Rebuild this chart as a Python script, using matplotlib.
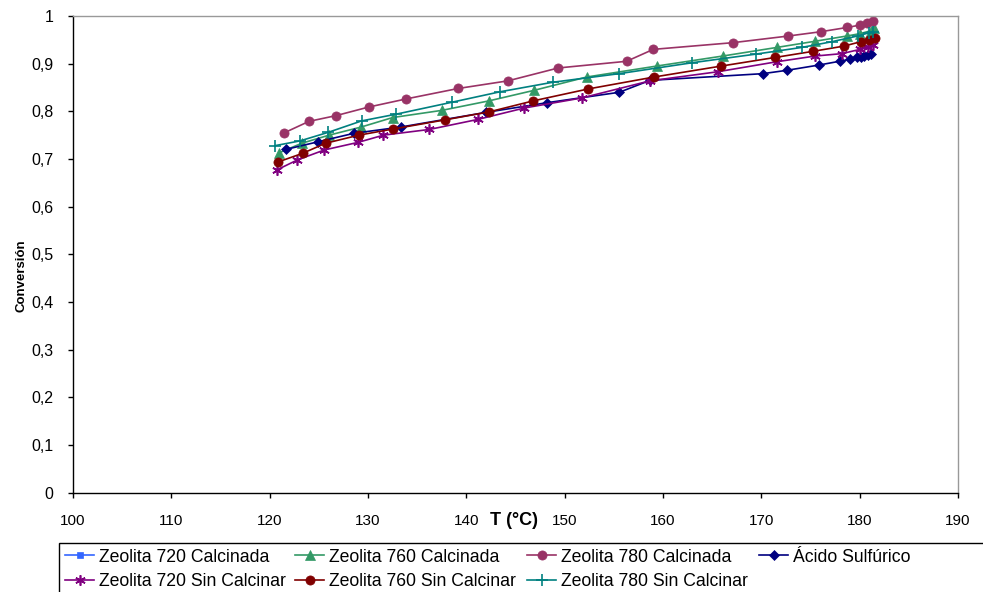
import matplotlib
matplotlib.use("Agg")
import matplotlib.pyplot as plt
from matplotlib.patches import Rectangle
from matplotlib.ticker import FuncFormatter, MultipleLocator

plt.rcParams['font.family'] = ['Liberation Sans', 'DejaVu Sans']

# Temperatures (°C) and conversions for each catalyst
t_720_calc = []
x_720_calc = []

t_760_calc = [120.95, 123.26, 126.03, 129.29, 132.51, 137.5, 142.31, 146.88,
              152.24, 159.36, 166.07, 171.56, 175.46, 178.68, 180.04, 181.12,
              181.49]
x_760_calc = [0.713, 0.733, 0.750, 0.767, 0.787, 0.802, 0.822, 0.844,
              0.872, 0.895, 0.916, 0.934, 0.947, 0.958, 0.963, 0.969, 0.974]

t_780_calc = [121.49, 124.0, 126.75, 130.07, 133.87, 139.18, 144.24, 149.35,
              156.3, 159.01, 167.09, 172.74, 176.04, 178.74, 180.04, 180.78,
              181.33]
x_780_calc = [0.755, 0.779, 0.791, 0.809, 0.826, 0.848, 0.864, 0.891,
              0.905, 0.930, 0.944, 0.958, 0.967, 0.976, 0.981, 0.986, 0.990]

t_acido = [121.63, 124.89, 128.58, 133.31, 142.05, 148.17, 155.56, 158.68,
           170.14, 172.58, 175.82, 177.95, 178.97, 179.7, 180.14, 180.47,
           180.88, 181.15]
x_acido = [0.720, 0.736, 0.754, 0.767, 0.798, 0.818, 0.840, 0.865,
           0.879, 0.886, 0.897, 0.905, 0.909, 0.913, 0.914, 0.916, 0.919,
           0.921]

t_720_sin = [120.72, 122.81, 125.56, 129.01, 131.56, 136.24, 141.16, 145.9,
             151.73, 158.68, 165.56, 171.56, 175.46, 178.17, 180.04, 180.88,
             181.39]
x_720_sin = [0.677, 0.698, 0.719, 0.735, 0.750, 0.762, 0.783, 0.807,
             0.828, 0.864, 0.883, 0.904, 0.916, 0.921, 0.930, 0.935, 0.939]

t_760_sin = [120.88, 123.36, 125.68, 129.06, 132.57, 137.8, 142.34, 146.81,
             152.4, 159.09, 165.93, 171.39, 175.29, 178.44, 180.09, 180.98,
             181.56]
x_760_sin = [0.694, 0.712, 0.733, 0.750, 0.763, 0.782, 0.799, 0.822,
             0.847, 0.872, 0.895, 0.913, 0.926, 0.937, 0.946, 0.949, 0.953]

t_780_sin = [120.54, 123.09, 125.96, 129.36, 132.85, 138.51, 143.42, 148.78,
             155.53, 162.98, 169.43, 174.09, 177.16, 179.78, 180.98, 181.33]
x_780_sin = [0.728, 0.738, 0.756, 0.780, 0.794, 0.819, 0.841, 0.861,
             0.879, 0.902, 0.920, 0.934, 0.946, 0.958, 0.965, 0.967]

series = [
    ("Zeolita 720 Calcinada", t_720_calc, x_720_calc, '#3366FF', 's', 5),
    ("Zeolita 760 Calcinada", t_760_calc, x_760_calc, '#339966', '^', 6.8),
    ("Zeolita 780 Calcinada", t_780_calc, x_780_calc, '#993366', 'o', 6.6),
    ("Ácido Sulfúrico", t_acido, x_acido, '#000080', 'D', 5),
    ("Zeolita 720 Sin Calcinar", t_720_sin, x_720_sin, '#800080', (6, 2, 0), 7.5),
    ("Zeolita 760 Sin Calcinar", t_760_sin, x_760_sin, '#800000', 'o', 6.6),
    ("Zeolita 780 Sin Calcinar", t_780_sin, x_780_sin, '#008080', '+', 8.5),
]

# legend entry anchors (pixels from top-left), Excel-style flowing rows
legend_pos = [(65, 557), (295, 557), (527, 557), (759, 557),
              (65, 582), (295, 582), (527, 582)]

W, H = 983, 592
fig = plt.figure(figsize=(W / 100, H / 100), dpi=100)
ax = fig.add_axes([73 / W, (H - 492.7) / H, 885 / W, 476.7 / H])

lines = []
for label, t, x, color, marker, ms in series:
    ln, = ax.plot(t, x, color=color, marker=marker, markersize=ms,
                  linewidth=1.2,
                  markeredgewidth=1.2 if marker in ('+', (6, 2, 0)) else 0.5,
                  markeredgecolor=color, label=label)
    lines.append(ln)

ax.set_xlim(100, 190)
ax.set_ylim(0, 1)
ax.xaxis.set_major_locator(MultipleLocator(10))
ax.yaxis.set_major_locator(MultipleLocator(0.1))
ax.yaxis.set_major_formatter(FuncFormatter(
    lambda v, p: ('%g' % round(v, 1)).replace('.', ',')))
ax.tick_params(direction='out', length=3.5, width=1, colors='black')
ax.tick_params(axis='x', pad=11.5, labelsize=11)
ax.tick_params(axis='y', pad=10.5, labelsize=11.5)

for side in ('top', 'right'):
    ax.spines[side].set_color('#999999')
    ax.spines[side].set_linewidth(1)
for side in ('left', 'bottom'):
    ax.spines[side].set_color('black')
    ax.spines[side].set_linewidth(1)

ax.set_ylabel("Conversión", fontsize=9.5, fontweight='bold')
ax.yaxis.set_label_coords(-0.051, 0.456)
ax.text(144.85, -0.059, "T (°C)", fontsize=13, fontweight='bold',
        ha='center', va='center')

# legend box runs past the right and bottom edges of the figure
fig.patches.append(Rectangle((59 / W, -0.05), 1.0, (H - 543) / H + 0.05,
                             transform=fig.transFigure, fill=False,
                             edgecolor='black', linewidth=1))
for ln, (px, py) in zip(lines, legend_pos):
    fig.legend([ln], [ln.get_label()], loc='center left',
               bbox_to_anchor=(px / W, 1 - py / H), frameon=False,
               fontsize=12.7, handlelength=1.65, handletextpad=0.28,
               borderpad=0, borderaxespad=0)

fig.savefig("out.png", dpi=100)
